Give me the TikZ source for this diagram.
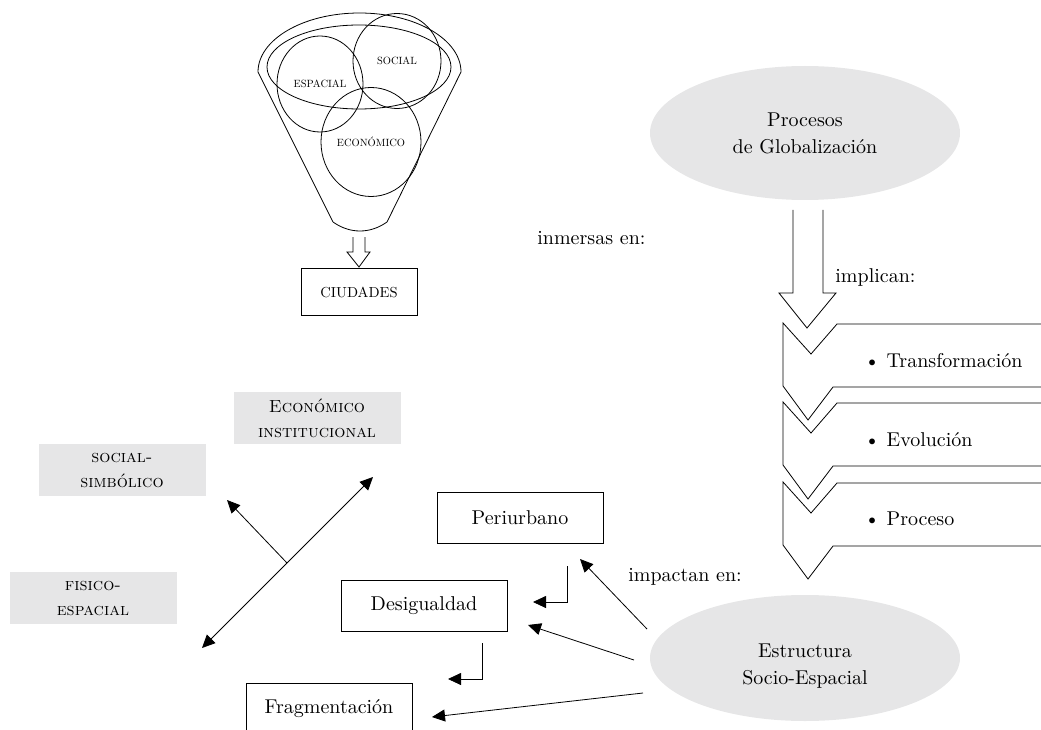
\documentclass[tikz,border=0pt]{standalone}
\usepackage{fontspec}
\setmainfont{lmroman10-regular.otf}[SmallCapsFont=lmromancaps10-regular.otf]
\usetikzlibrary{arrows.meta,shapes.geometric}
\definecolor{softgray}{RGB}{230,230,231}
\tikzset{
  txt/.style={font=\fontsize{20}{27}\selectfont,inner sep=0pt},
  scaps/.style={font=\fontsize{17.5}{25}\selectfont\scshape},
  smalltxt/.style={font=\fontsize{10.5}{12}\selectfont},
  whitebox/.style={draw,txt,minimum width=166pt,minimum height=51pt},
  graybox/.style={fill=softgray,scaps,minimum width=167pt,minimum height=52pt,inner sep=0pt,align=center},
  blob/.style={ellipse,fill=softgray,txt,align=center,minimum width=310pt},
  lobe/.style={draw,ellipse,smalltxt,inner sep=0pt},
  headed/.style={-{Triangle[length=13pt,width=12pt]}}
}
\begin{document}
\begin{tikzpicture}[x=1pt,y=-1pt,line width=0.8pt]
  \useasboundingbox (0,0) rectangle (1041,730);
  \draw (333,222) -- (258,72) arc[start angle=180,end angle=0,x radius=101.5pt,y radius=59pt]
    -- (387,222) .. controls (370,234) and (350,234) .. (333,222);
  \draw (359,67) ellipse [x radius=92pt,y radius=42pt];
  \node[lobe,minimum width=86pt,minimum height=96pt] (esp) at (320,84) {ESPACIAL};
  \node[lobe,minimum width=88pt,minimum height=95pt] (soc) at (397,61) {SOCIAL};
  \node[lobe,minimum width=100pt,minimum height=109pt] (eco) at (371,142) {ECONÓMICO};
  \draw (353,237) -- (353,252) -- (347,252) -- (359,267) -- (370,252) -- (365,252) -- (365,237);
  \node[draw,font=\fontsize{14.5}{16}\selectfont,minimum width=116pt,minimum height=47pt,inner sep=0pt] (ciu) at (359,292) {CIUDADES};

  \node[blob,minimum height=134pt] (glob) at (805,133) {Procesos\\de Globalización};
  \draw (793,210) -- (793,293) -- (779,293) -- (807,328) -- (836,293) -- (823,293) -- (823,210);
  \foreach \T in {323,402,482}
    \draw (1050,\T+1) -- (837,\T+1) -- (811,\T+31) -- (783,\T) -- (783,\T+63)
      -- (808,\T+97) -- (833,\T+64) -- (1050,\T+64);
  \node[txt,anchor=west] (tra) at (864,361) {\textbullet\ Transformación};
  \node[txt,anchor=west] (evo) at (864,440) {\textbullet\ Evolución};
  \node[txt,anchor=west] (pro) at (864,519) {\textbullet\ Proceso};
  \node[blob,minimum height=126pt] (est) at (805,658) {};
  \node[txt,align=center] (estt) at (805,666) {Estructura\\Socio-Espacial};

  \node[txt,anchor=west] (inm) at (537,238) {inmersas en:};
  \node[txt,anchor=west] (impl) at (835,277) {implican:};
  \node[txt,anchor=west] (impa) at (628,577) {impactan en:};

  \node[graybox] (ecoi) at (317,418) {Económico\\institucional};
  \node[graybox] (socs) at (122,470) {social-\\simbólico};
  \node[graybox] (fise) at (93,598) {fisico-\\espacial};
  \coordinate (ne) at (373,477);
  \coordinate (sw) at (202,648);
  \coordinate (mid) at (287,563);
  \coordinate (nw) at (227,500);
  \draw[{Triangle[length=13pt,width=12pt]}-{Triangle[length=13pt,width=12pt]}] (sw) -- (ne);
  \draw[headed] (mid) -- (nw);

  \node[whitebox] (peri) at (520,518) {Periurbano};
  \node[whitebox] (desi) at (424,606) {Desigualdad};
  \node[whitebox] (frag) at (329,709) {Fragmentación};
  \coordinate (k1) at (567,566);
  \coordinate (k2) at (533,602);
  \coordinate (k3) at (482,643);
  \coordinate (k4) at (448,679);
  \draw[headed] (k1) |- (k2);
  \draw[headed] (k3) |- (k4);
  \coordinate (e1) at (647,629);
  \coordinate (e2) at (634,660);
  \coordinate (e3) at (643,693);
  \coordinate (p1) at (580,559);
  \coordinate (p2) at (528,625);
  \coordinate (p3) at (432,717);
  \draw[headed] (e1) -- (p1);
  \draw[headed] (e2) -- (p2);
  \draw[headed] (e3) -- (p3);
\end{tikzpicture}
\end{document}
